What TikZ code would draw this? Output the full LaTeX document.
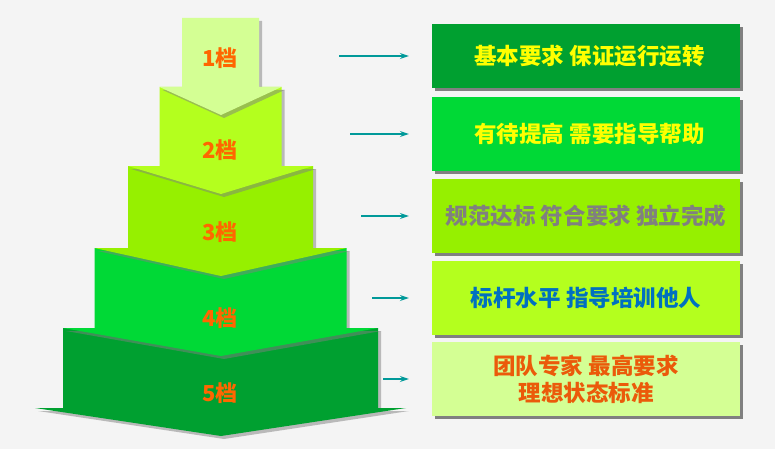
\documentclass[tikz,border=0pt]{standalone}
\usepackage{fontspec}
\usepackage{tikz}
\usetikzlibrary{positioning,arrows.meta,calc,shadows}
\newfontfamily\cjk{Noto Sans CJK SC}
\definecolor{gdBack}{RGB}{244,244,244}
\definecolor{gdPale}{RGB}{212,255,148}
\definecolor{gdLime}{RGB}{180,255,30}
\definecolor{gdGreen}{RGB}{150,240,0}
\definecolor{gdBright}{RGB}{0,217,54}
\definecolor{gdDark}{RGB}{0,160,48}
\definecolor{gdOrange}{RGB}{255,102,0}
\definecolor{gdTeal}{RGB}{0,153,153}
\definecolor{gdBlue}{RGB}{0,112,192}
\definecolor{gdRed}{RGB}{235,90,10}
\definecolor{gdGray}{RGB}{128,128,128}
\definecolor{gdYellow}{RGB}{255,255,0}
\tikzset{
  tier/.style={drop shadow={shadow xshift=3pt,shadow yshift=-3pt,opacity=0.5}},
  tierlbl/.style={font={\cjk\bfseries\fontsize{22}{24}\selectfont}, text=gdOrange},
  card/.style={minimum width=308pt, minimum height=74pt, inner sep=0pt, align=center,
    font={\cjk\bfseries\fontsize{22.5}{27}\selectfont},
    drop shadow={shadow xshift=3pt,shadow yshift=-3pt,fill=gdGray,opacity=1}},
  pointer/.style={gdTeal, line width=1.1pt, -{Stealth[length=9pt,width=6pt,inset=3pt]}}
}

\begin{document}
\begin{tikzpicture}[x=1pt,y=-1pt]
  \fill[gdBack] (0,0) rectangle (775,449);
  \useasboundingbox (0,0) rectangle (775,449);

  % Tiers, bottom one first
  \foreach \k/\wa/\wb/\ya/\yb/\col in {5/157.5/185.5/328/408/gdDark, 4/126/157.5/248/328/gdBright,
      3/92.5/126/166/248/gdGreen, 2/61/92.5/87/166/gdLime, 1/38.5/61/18/87/gdPale}
    \fill[tier, fill=\col] (220.5-\wa,\ya) -- (220.5+\wa,\ya) -- (220.5+\wa,\yb) -- (220.5+\wb,\yb)
      -- (221,\yb+28) -- (220.5-\wb,\yb) -- (220.5-\wa,\yb) -- cycle;

  \foreach \k/\y in {1/58,2/150,3/232,4/318,5/393}
    \node[tierlbl] (lvl\k) at (220,\y) {\k{}档};

  % Descriptions
  \node[card, fill=gdDark, text=gdYellow, minimum height=64pt] (card1) at (586,56) {\hspace{7pt}基本要求 保证运行运转};
  \node[card, fill=gdBright, text=gdYellow] (card2) at (586,134) {\hspace{7pt}有待提高 需要指导帮助};
  \node[card, fill=gdGreen, text=gdGray] (card3) at (586,216) {规范达标 符合要求 独立完成};
  \node[card, fill=gdLime, text=gdBlue] (card4) at (586,298) {标杆水平 指导培训他人};
  \node[card, fill=gdPale, text=gdRed] (card5) at (586,379) {团队专家 最高要求\\理想状态标准};

  % Pointers
  \foreach \k/\x in {1/339,2/350,3/361,4/372,5/383} {
    \coordinate (head\k) at ([xshift=-23pt]card\k.west);
    \coordinate (tail\k) at (head\k -| \x,0);
    \draw[pointer] (tail\k) -- (head\k);
  }
\end{tikzpicture}
\end{document}
